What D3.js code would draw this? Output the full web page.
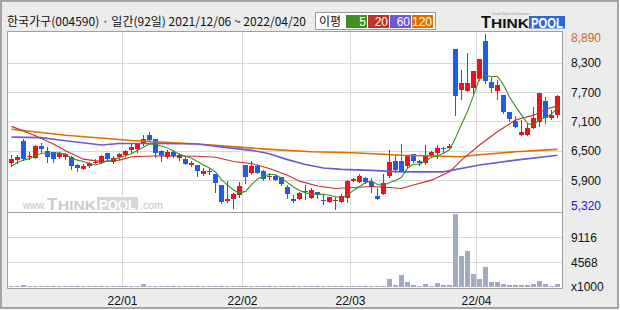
<!DOCTYPE html>
<html>
<head>
<meta charset="utf-8">
<script src="https://cdn.jsdelivr.net/npm/d3@7"></script>
<style>
  body { margin: 0; background: #fff; }
  svg { display: block; }
</style>
</head>
<body>
<svg id="chart" width="620" height="310"></svg>
<script>
// ---- data ----
const stockName = "한국가구", stockCode = "004590";

const dates = [
  "2021-12-06","2021-12-07","2021-12-08","2021-12-09","2021-12-10","2021-12-13","2021-12-14","2021-12-15","2021-12-16","2021-12-17",
  "2021-12-20","2021-12-21","2021-12-22","2021-12-23","2021-12-24","2021-12-27","2021-12-28","2021-12-29","2021-12-30",
  "2022-01-03","2022-01-04","2022-01-05","2022-01-06","2022-01-07","2022-01-10","2022-01-11","2022-01-12","2022-01-13","2022-01-14",
  "2022-01-17","2022-01-18","2022-01-19","2022-01-20","2022-01-21","2022-01-24","2022-01-25","2022-01-26","2022-01-27","2022-01-28",
  "2022-02-03","2022-02-04","2022-02-07","2022-02-08","2022-02-09","2022-02-10","2022-02-11","2022-02-14","2022-02-15","2022-02-16",
  "2022-02-17","2022-02-18","2022-02-21","2022-02-22","2022-02-23","2022-02-24","2022-02-25","2022-02-28",
  "2022-03-02","2022-03-03","2022-03-04","2022-03-07","2022-03-08","2022-03-10","2022-03-11","2022-03-14","2022-03-15","2022-03-16",
  "2022-03-17","2022-03-18","2022-03-21","2022-03-22","2022-03-23","2022-03-24","2022-03-25","2022-03-28","2022-03-29","2022-03-30","2022-03-31",
  "2022-04-01","2022-04-04","2022-04-05","2022-04-06","2022-04-07","2022-04-08","2022-04-11","2022-04-12","2022-04-13","2022-04-14",
  "2022-04-15","2022-04-18","2022-04-19","2022-04-20"
];

const opens = [
  6260,6310,6710,6370,6360,6600,6500,6470,6380,6370,
  6370,6200,6130,6180,6270,6260,6450,6280,6370,6410,
  6520,6530,6670,6820,6740,6500,6380,6480,6350,6330,
  6200,6210,6020,6060,6030,5800,5480,5510,5600,6200,
  6040,6190,6080,5960,5980,5960,5770,5510,5520,5680,
  5540,5650,5500,5460,5480,5460,5540,5890,5870,5940,
  5860,5570,5620,5990,6290,6290,6180,6430,6290,6250,
  6400,6460,6550,6550,8580,7740,7720,7780,7970,8750,
  7910,7720,7640,7290,7100,6830,6830,6960,7080,7520,
  7180,7230
];
const highs = [
  6410,6410,6740,6480,6610,6670,6580,6480,6480,6450,
  6390,6230,6230,6280,6330,6410,6460,6390,6460,6520,
  6650,6670,6820,6880,6750,6520,6520,6520,6450,6370,
  6300,6220,6140,6140,6030,5800,5880,5630,5870,6210,
  6290,6230,6110,6050,6000,5970,5800,5600,5650,5800,
  5730,5660,5600,5560,5560,5620,5900,5940,6030,5970,
  5940,5730,6030,6520,6410,6640,6390,6430,6310,6620,
  6500,6610,6580,6630,8580,8150,8500,8130,8380,8890,
  8020,7950,7640,7290,7220,7130,7060,7400,7690,7610,
  7340,7640
];
const lows = [
  6190,6250,6310,6330,6350,6480,6280,6270,6360,6330,
  6130,6080,6120,6160,6250,6250,6310,6250,6330,6390,
  6460,6480,6620,6710,6380,6300,6360,6370,6310,6230,
  6180,5990,6000,6030,5660,5430,5460,5330,5560,5840,
  6030,6050,5900,5920,5900,5810,5530,5450,5520,5510,
  5530,5530,5410,5460,5320,5450,5460,5880,5870,5850,
  5660,5510,5620,5970,6060,6080,6140,6270,6200,6230,
  6380,6350,6450,6540,7230,7570,7720,7690,7950,7890,
  7710,7550,7270,7110,6980,6830,6830,6960,7010,7060,
  7150,7200
];
const closes = [
  6330,6370,6330,6390,6600,6540,6380,6330,6450,6430,
  6180,6140,6180,6250,6280,6390,6330,6360,6440,6500,
  6580,6650,6740,6720,6460,6410,6480,6400,6410,6230,
  6250,6090,6080,6080,5850,5460,5510,5620,5780,5970,
  6190,6050,5920,5990,5900,5820,5620,5480,5640,5650,
  5700,5600,5470,5550,5500,5580,5880,5920,5990,5870,
  5750,5510,5840,6270,6100,6080,6390,6300,6250,6410,
  6480,6560,6540,6600,7620,7890,7890,8130,8380,7930,
  7790,7850,7290,7150,6990,6880,6970,7170,7690,7180,
  7230,7620
];
// volume, x1000 shares
const volumes = [
  200,180,370,190,210,180,170,190,160,170,
  200,180,160,170,150,180,170,160,170,190,
  200,220,550,240,200,180,170,160,160,170,
  150,190,160,150,200,230,190,200,180,210,
  200,170,160,150,150,160,190,170,160,180,
  170,150,170,160,180,170,240,190,180,160,
  170,180,230,1460,370,2190,970,370,180,550,
  200,730,370,370,13300,5650,6570,2370,1460,3650,
  970,970,550,370,370,370,370,550,1150,550,
  180,550
];

// moving averages
const ma5 = [
  6190,6260,6310,6340,6400,6450,6450,6450,6460,6430,
  6350,6310,6280,6240,6210,6250,6290,6320,6360,6400,
  6440,6510,6580,6640,6630,6600,6560,6490,6430,6390,
  6350,6280,6210,6150,6070,5910,5800,5700,5640,5670,
  5810,5920,5980,6020,6010,5940,5850,5760,5690,5640,
  5620,5610,5610,5590,5560,5540,5600,5690,5770,5850,
  5880,5810,5790,5850,5890,5960,6140,6230,6220,6290,
  6370,6400,6450,6520,6760,7040,7310,7630,7980,8040,
  8020,8020,7850,7600,7410,7230,7060,7030,7140,7180,
  7250,7380
];
const ma20 = [[0,7000],[4,6810],[7,6640],[9,6500],[12,6330],[15,6280],[18,6310],[20,6380],[25,6400],
  [31,6390],[34,6370],[37,6280],[40,6240],[43,6140],[46,6000],[48,5880],[51,5780],[54,5730],[57,5750],
  [60,5770],[63,5750],[65,5730],[67,5800],[70,5900],[73,6070],[75,6310],[78,6620],[81,6890],[84,7130],
  [87,7230],[89,7350],[91,7420]];
const ma60 = [[0,6780],[5,6770],[8,6720],[15,6620],[18,6650],[25,6650],[31,6640],[37,6550],[40,6510],
  [43,6440],[46,6320],[49,6220],[52,6150],[55,6120],[60,6100],[65,6070],[72,6070],[78,6210],[84,6310],[91,6410]];
const ma120 = [[0,6940],[9,6820],[20,6710],[31,6640],[43,6530],[50,6480],[57,6460],[65,6410],[75,6380],
  [77,6410],[84,6480],[91,6530]];

const maPeriods = [5, 20, 60, 120];
const maColors = ["#3f8f24", "#c0302c", "#6a5ad8", "#dd6f00"];

const priceTicks = [8300, 7700, 7100, 6500, 5900];
const volumeTicks = [4568, 9116];

// ---- scales ----
const svg = d3.select("#chart");
const plotL = 7.5, plotR = 562.5, plotT = 31.5, plotM = 212.5, plotB = 288.5;

const x = d3.scaleBand().domain(d3.range(dates.length)).range([8, 560]);
const xc = i => x(i) + 3.5;
const y = d3.scaleLinear().domain([d3.min(lows), d3.max(highs)]).range([208.5, 34]);
const yv = d3.scaleLinear().domain([0, 13680]).range([287, 212]);

const parse = d3.timeParse("%Y-%m-%d");
const days = dates.map(parse);
const monthStarts = d3.range(1, days.length).filter(i => days[i].getMonth() !== days[i - 1].getMonth());
const fmtMonth = d3.timeFormat("%y/%m");

// ---- frame ----
svg.append("rect").attr("width", 620).attr("height", 310).attr("fill", "#fff");
svg.append("rect").attr("x", 1).attr("y", 1).attr("width", 617).attr("height", 307)
  .attr("fill", "#ececec").attr("stroke", "#a4a4a4").attr("stroke-width", 2);
svg.append("rect").attr("x", plotL).attr("y", plotT).attr("width", plotR - plotL).attr("height", plotB - plotT)
  .attr("fill", "#fff");

// title
svg.append("text")
  .attr("x", 7).attr("y", 26)
  .attr("font-family", "'Noto Sans CJK KR', sans-serif").attr("font-size", 12).attr("fill", "#111")
  .text(`${stockName}(${stockCode}) · 일간(${dates.length}일) ${dates[0].replace(/-/g, "/")} ~ ${dates[dates.length - 1].replace(/-/g, "/")}`);

// MA legend
const legend = svg.append("g");
legend.append("rect").attr("x", 315.5).attr("y", 12.5).attr("width", 120).attr("height", 17)
  .attr("fill", "#fff").attr("stroke", "#999");
legend.append("text").attr("x", 319).attr("y", 25.5)
  .attr("font-family", "'Noto Sans CJK KR', sans-serif").attr("font-size", 12).attr("fill", "#111")
  .text("이평");
maPeriods.forEach((p, k) => {
  const bx = 346 + k * 22;
  legend.append("rect").attr("x", bx).attr("y", 15).attr("width", 21).attr("height", 13).attr("fill", maColors[k]);
  legend.append("text").attr("x", bx + 20).attr("y", 26).attr("text-anchor", "end")
    .attr("font-family", "'Liberation Sans', Arial, sans-serif").attr("font-size", 12).attr("fill", "#fff").text(p);
});

// logo
const logo = svg.append("g").attr("font-family", "'Liberation Sans', Arial, sans-serif").attr("font-weight", "bold");
logo.append("text").attr("x", 492).attr("y", 15).attr("font-size", 3.5).attr("font-weight", "normal")
  .attr("fill", "#999").text("Smart Stock Information");
logo.append("text").attr("x", 481).attr("y", 28).attr("font-size", 16).attr("fill", "#111").text("T");
logo.append("text").attr("x", 491).attr("y", 28).attr("font-size", 12.5).attr("fill", "#111")
  .attr("textLength", 38).attr("lengthAdjust", "spacingAndGlyphs").text("HINK");
logo.append("rect").attr("x", 529).attr("y", 16).attr("width", 36).attr("height", 12.5).attr("fill", "#3267d6");
logo.append("text").attr("x", 531).attr("y", 28).attr("font-size", 14).attr("fill", "#fff")
  .attr("textLength", 32).attr("lengthAdjust", "spacingAndGlyphs").text("POOL");

// watermark
const wm = svg.append("g").attr("font-family", "'Liberation Sans', Arial, sans-serif");
wm.append("text").attr("x", 23).attr("y", 209).attr("font-size", 10.5).attr("fill", "#c2c2c2")
  .attr("textLength", 23).attr("lengthAdjust", "spacingAndGlyphs").text("www.");
wm.append("text").attr("x", 47).attr("y", 209.5).attr("font-size", 17).attr("font-weight", "bold").attr("fill", "#cacaca").text("T");
wm.append("text").attr("x", 58).attr("y", 209.5).attr("font-size", 13.5).attr("font-weight", "bold").attr("fill", "#cacaca")
  .attr("textLength", 38).attr("lengthAdjust", "spacingAndGlyphs").text("HINK");
wm.append("rect").attr("x", 97).attr("y", 197).attr("width", 41).attr("height", 13).attr("fill", "#d6d6d6");
wm.append("text").attr("x", 99).attr("y", 209.5).attr("font-size", 14).attr("font-weight", "bold").attr("fill", "#fff")
  .attr("textLength", 37).attr("lengthAdjust", "spacingAndGlyphs").text("POOL");
wm.append("text").attr("x", 140).attr("y", 209).attr("font-size", 10.5).attr("fill", "#c2c2c2").text(".com");

// ---- grid ----
const grid = svg.append("g").attr("stroke", "#d9d9d9").attr("shape-rendering", "crispEdges");
grid.selectAll(".hp").data(priceTicks).join("line")
  .attr("x1", plotL).attr("x2", plotR)
  .attr("y1", d => Math.round(y(d)) + 0.5).attr("y2", d => Math.round(y(d)) + 0.5);
grid.selectAll(".hv").data(volumeTicks).join("line")
  .attr("x1", plotL).attr("x2", plotR)
  .attr("y1", d => Math.round(yv(d)) + 0.5).attr("y2", d => Math.round(yv(d)) + 0.5);
grid.selectAll(".vx").data(monthStarts).join("line")
  .attr("x1", d => x(d) + 0.5).attr("x2", d => x(d) + 0.5)
  .attr("y1", plotT).attr("y2", plotB);

// ---- volume ----
svg.append("g").attr("shape-rendering", "crispEdges")
  .selectAll("rect").data(volumes).join("rect")
  .attr("x", (d, i) => x(i) + 1)
  .attr("width", 5)
  .attr("height", d => Math.max(1, Math.round(287 - yv(d))))
  .attr("y", d => 287 - Math.max(1, Math.round(287 - yv(d))))
  .attr("fill", "#a2aac2");

// ---- candles ----
const up = "#e8161c", down = "#1f5de6";
const candles = svg.append("g").attr("shape-rendering", "crispEdges");
const idx = d3.range(dates.length);
candles.selectAll("line").data(idx).join("line")
  .attr("x1", i => xc(i)).attr("x2", i => xc(i))
  .attr("y1", i => Math.round(y(highs[i]))).attr("y2", i => Math.round(y(lows[i])) + 1)
  .attr("stroke", i => closes[i] >= opens[i] ? up : down);
candles.selectAll("rect").data(idx).join("rect")
  .attr("x", i => x(i) + 1)
  .attr("width", 5)
  .attr("y", i => Math.round(y(Math.max(opens[i], closes[i]))))
  .attr("height", i => Math.max(1, Math.round(y(Math.min(opens[i], closes[i]))) - Math.round(y(Math.max(opens[i], closes[i])))))
  .attr("fill", i => closes[i] >= opens[i] ? up : down);

// ---- moving averages ----
const line = d3.line().x(d => xc(d[0])).y(d => y(d[1]));
const maSeries = [ma5.map((v, i) => [i, v]), ma20, ma60, ma120];
const maWidths = [1.1, 1.1, 1.6, 1.6];
[3, 2, 1, 0].forEach(k => {
  svg.append("path").datum(maSeries[k])
    .attr("fill", "none").attr("stroke", maColors[k]).attr("stroke-width", maWidths[k])
    .attr("d", line);
});

// ---- panel borders ----
const borders = svg.append("g").attr("stroke", "#a0a0a0").attr("fill", "none").attr("shape-rendering", "crispEdges");
borders.append("rect").attr("x", plotL).attr("y", plotT).attr("width", plotR - plotL).attr("height", plotB - plotT);
borders.append("line").attr("x1", plotL).attr("x2", plotR).attr("y1", plotM).attr("y2", plotM);

// ---- axis labels ----
const labels = svg.append("g").attr("font-family", "'Liberation Sans', Arial, sans-serif").attr("font-size", 12);
const fmtPrice = d3.format(",");
labels.selectAll(".pt").data(priceTicks).join("text")
  .attr("x", 571).attr("y", d => y(d) + 4.5).attr("fill", "#111").text(fmtPrice);
labels.append("text").attr("x", 571).attr("y", y(d3.max(highs)) + 7.5).attr("fill", "#cc6a10").text(fmtPrice(d3.max(highs)));
labels.append("text").attr("x", 571).attr("y", y(d3.min(lows)) + 1.5).attr("fill", "#1a1ad0").text(fmtPrice(d3.min(lows)));
labels.selectAll(".vt").data(volumeTicks).join("text")
  .attr("x", 571).attr("y", d => yv(d) + 5).attr("fill", "#111").text(d => d);
labels.append("text").attr("x", 571).attr("y", 291).attr("fill", "#111").text("x1000");
labels.selectAll(".mt").data(monthStarts).join("text")
  .attr("x", d => x(d) + 0.5).attr("y", 305).attr("text-anchor", "middle").attr("fill", "#111")
  .text(d => fmtMonth(days[d]));
</script>
</body>
</html>
